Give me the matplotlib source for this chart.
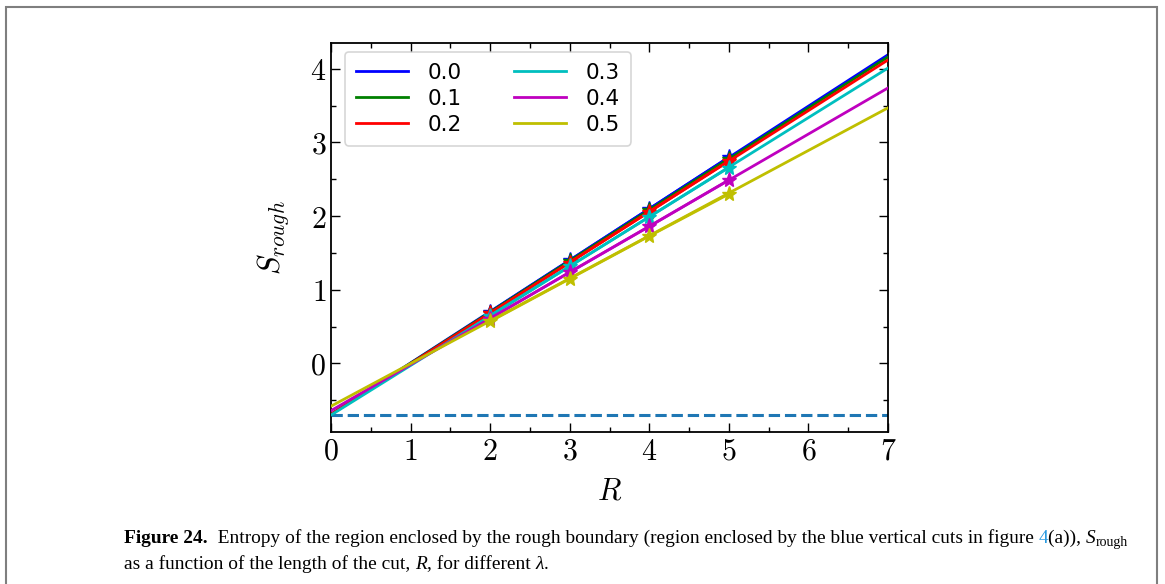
import matplotlib
matplotlib.use('Agg')
import matplotlib.pyplot as plt
from matplotlib.patches import Rectangle
from matplotlib.ticker import MultipleLocator, FuncFormatter

# ---------------- data ----------------
lambdas = ['0.0', '0.1', '0.2', '0.3', '0.4', '0.5']
colors = ['b', 'g', 'r', 'c', 'm', 'y']

# straight fitted lines, evaluated at the ends of the R range
R_fit = [0, 7]
fit_at_R0 = [-0.69, -0.69, -0.69, -0.70, -0.64, -0.58]
fit_at_R7 = [4.19, 4.16, 4.12, 4.01, 3.74, 3.47]

# data points (stars)
R_points = [2, 3, 4, 5]
S_lam00 = [0.70, 1.40, 2.10, 2.80]
S_lam01 = [0.69, 1.39, 2.08, 2.78]
S_lam02 = [0.68, 1.37, 2.06, 2.75]
S_lam03 = [0.65, 1.32, 1.99, 2.66]
S_lam04 = [0.61, 1.24, 1.86, 2.49]
S_lam05 = [0.57, 1.15, 1.73, 2.30]
S_points = [S_lam00, S_lam01, S_lam02, S_lam03, S_lam04, S_lam05]

baseline_value = -0.693

x_ticks = [0, 1, 2, 3, 4, 5, 6, 7]
y_ticks = [0, 1, 2, 3, 4]

# ---------------- figure ----------------
plt.rcParams['mathtext.fontset'] = 'cm'
W, H = 1165, 584
fig = plt.figure(figsize=(W / 100, H / 100), dpi=100)
ax = fig.add_axes([331 / W, 1 - 432 / H, (888 - 331) / W, (432 - 43) / H])

for i in range(len(lambdas)):
    ax.plot(R_fit, [fit_at_R0[i], fit_at_R7[i]], color=colors[i], lw=2,
            label=lambdas[i], zorder=2 + i)
    ax.plot(R_points, S_points[i], color=colors[i], lw=2, marker='*',
            ms=11, zorder=2 + i)

ax.axhline(baseline_value, color='#1f77b4', ls='--', lw=2.2, zorder=1)

ax.set_xlim(0, 7)
ax.set_ylim(-0.93, 4.35)
ax.set_xticks(x_ticks)
ax.set_yticks(y_ticks)
ax.xaxis.set_minor_locator(MultipleLocator(0.5))
ax.yaxis.set_minor_locator(MultipleLocator(0.5))
fmt = FuncFormatter(lambda v, p: r'$%d$' % v)
ax.xaxis.set_major_formatter(fmt)
ax.yaxis.set_major_formatter(fmt)
ax.tick_params(which='both', direction='in', top=True, right=True,
               labelsize=21.5, width=1.0)
ax.tick_params(which='major', length=6.5)
ax.tick_params(which='minor', length=3.5)
for s in ax.spines.values():
    s.set_linewidth(1.3)

ax.set_xlabel(r'$R$', fontsize=22, labelpad=8)
ax.set_ylabel(r'$S_{rough}$', fontsize=22, labelpad=14)

leg = ax.legend(ncol=2, loc='upper left', bbox_to_anchor=(0.025, 0.977),
                borderaxespad=0, fontsize=15.5, labelspacing=0.28,
                handlelength=2.45, handletextpad=0.9, columnspacing=2.4,
                borderpad=0.5, frameon=True, fancybox=True)
leg.get_frame().set_edgecolor('#cccccc')
leg.get_frame().set_linewidth(1.2)

# outer frame
fig.patches.append(Rectangle((6 / W, -0.05), (1157 - 6) / W, 1.05 - 7 / H,
                             transform=fig.transFigure, fill=False,
                             edgecolor='#7f7f7f', lw=1.5))

# ---------------- caption ----------------
fig.canvas.draw()
renderer = fig.canvas.get_renderer()
cap_font = 'Liberation Serif'
cap_size = 13.95


def draw_pieces(x_px, y_px, pieces):
    x = x_px
    for txt, kw in pieces:
        dy = kw.pop('dy', 0)
        t = fig.text(x / W, 1 - (y_px + dy) / H, txt, family=cap_font,
                     va='baseline', ha='left', **kw)
        bb = t.get_window_extent(renderer=renderer)
        x += bb.width


draw_pieces(124, 543, [
    ('Figure 24.', dict(fontsize=cap_size, weight='bold')),
    ('  Entropy of the region enclosed by the rough boundary (region enclosed by the blue vertical cuts in figure ',
     dict(fontsize=cap_size)),
    ('4', dict(fontsize=cap_size, color='#2a9be0')),
    ('(a)), ', dict(fontsize=cap_size)),
    ('S', dict(fontsize=cap_size, style='italic')),
    ('rough', dict(fontsize=cap_size * 0.72, dy=3)),
])
draw_pieces(124, 569, [
    ('as a function of the length of the cut, ', dict(fontsize=cap_size)),
    ('R', dict(fontsize=cap_size, style='italic')),
    (', for different ', dict(fontsize=cap_size)),
    ('\u03bb', dict(fontsize=cap_size, style='italic')),
    ('.', dict(fontsize=cap_size)),
])

fig.savefig('out.png', dpi=100)
